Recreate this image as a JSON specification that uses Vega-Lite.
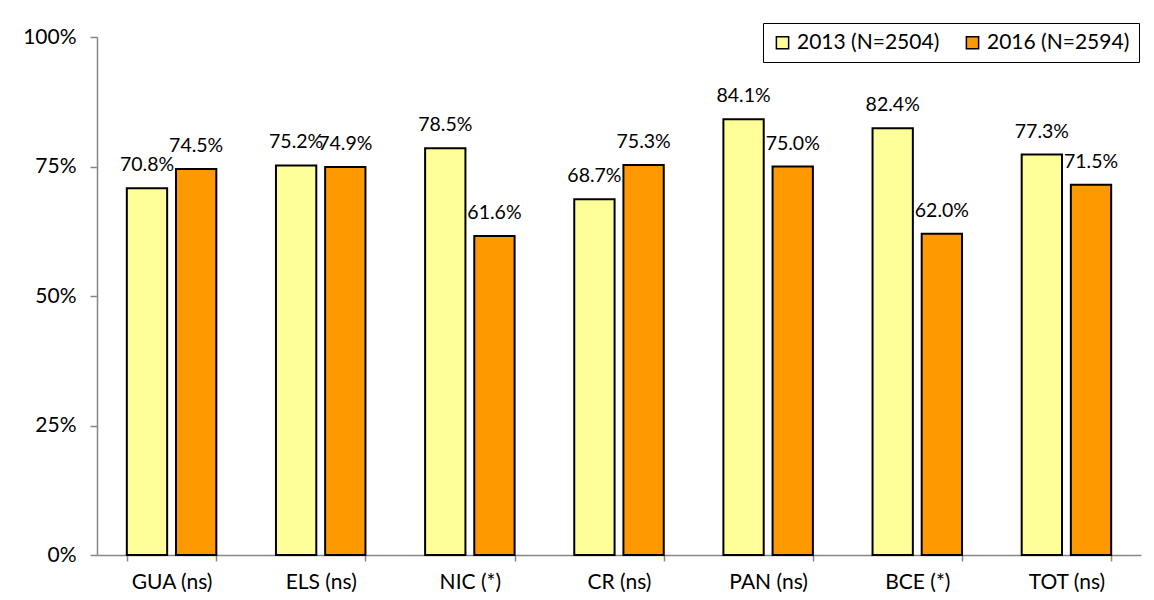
{
  "$schema": "https://vega.github.io/schema/vega-lite/v6.json",
  "width": 1044,
  "height": 518,
  "autosize": {"type": "none"},
  "padding": {"left": 97, "top": 37, "right": 13, "bottom": 45},
  "background": "white",
  "config": {
    "view": {"stroke": null},
    "font": "Lato",
    "axis": {"labelFont": "Lato", "labelColor": "black", "domainColor": "#868686", "tickColor": "#868686", "domainWidth": 1.5, "tickWidth": 1.5, "grid": false}
  },
  "data": {
    "values": [
      {"cat": "GUA (ns)", "year": "2013 (N=2504)", "v": 0.708},
      {"cat": "GUA (ns)", "year": "2016 (N=2594)", "v": 0.745},
      {"cat": "ELS (ns)", "year": "2013 (N=2504)", "v": 0.752},
      {"cat": "ELS (ns)", "year": "2016 (N=2594)", "v": 0.749},
      {"cat": "NIC (*)", "year": "2013 (N=2504)", "v": 0.785},
      {"cat": "NIC (*)", "year": "2016 (N=2594)", "v": 0.616},
      {"cat": "CR (ns)", "year": "2013 (N=2504)", "v": 0.687},
      {"cat": "CR (ns)", "year": "2016 (N=2594)", "v": 0.753},
      {"cat": "PAN (ns)", "year": "2013 (N=2504)", "v": 0.841},
      {"cat": "PAN (ns)", "year": "2016 (N=2594)", "v": 0.750},
      {"cat": "BCE (*)", "year": "2013 (N=2504)", "v": 0.824},
      {"cat": "BCE (*)", "year": "2016 (N=2594)", "v": 0.620},
      {"cat": "TOT (ns)", "year": "2013 (N=2504)", "v": 0.773},
      {"cat": "TOT (ns)", "year": "2016 (N=2594)", "v": 0.715}
    ]
  },
  "encoding": {
    "x": {
      "field": "cat", "type": "nominal", "sort": null, "title": null,
      "scale": {"paddingInner": 0.4, "paddingOuter": 0.2},
      "axis": {"labelAngle": 0, "labelFontSize": 21, "tickBand": "extent", "tickSize": 6, "labelPadding": 10}
    },
    "xOffset": {"field": "year", "type": "nominal", "scale": {"paddingInner": 0.18}},
    "y": {
      "field": "v", "type": "quantitative", "title": null,
      "scale": {"domain": [0, 1]},
      "axis": {"values": [0, 0.25, 0.5, 0.75, 1], "format": ".0%", "labelFontSize": 21, "tickSize": 7, "labelPadding": 14}
    }
  },
  "layer": [
    {
      "mark": {"type": "bar", "stroke": "black", "strokeWidth": 2},
      "encoding": {
        "color": {
          "field": "year", "type": "nominal",
          "scale": {"domain": ["2013 (N=2504)", "2016 (N=2594)"], "range": ["#FFFF99", "#FF9900"]},
          "legend": {
            "title": null, "orient": "none", "legendX": 666, "legendY": -14,
            "direction": "horizontal", "columns": 2, "columnPadding": 22,
            "symbolType": "square", "symbolSize": 150, "symbolStrokeColor": "black", "symbolStrokeWidth": 1.5,
            "labelFontSize": 21, "labelFont": "Lato", "labelColor": "black", "labelOffset": 4,
            "strokeColor": "black", "padding": 9, "fillColor": "white"
          }
        }
      }
    },
    {
      "mark": {"type": "text", "dy": -17, "baseline": "alphabetic", "fontSize": 19.5, "font": "Lato", "color": "black"},
      "encoding": {
        "text": {"field": "v", "type": "quantitative", "format": ".1%"}
      }
    }
  ]
}
